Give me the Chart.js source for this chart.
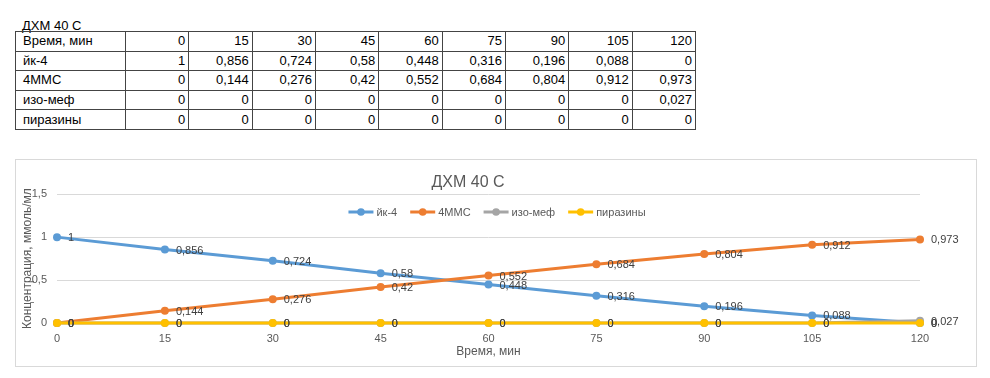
<!DOCTYPE html>
<html>
<head>
<meta charset="utf-8">
<script src="https://cdn.jsdelivr.net/npm/chart.js@4.4.0/dist/chart.umd.min.js"></script>
<style>
html,body{margin:0;padding:0;background:#fff;width:990px;height:378px;overflow:hidden;font-family:"Liberation Sans",Arial,sans-serif;}
#ttl{position:absolute;left:22px;top:18px;font-size:13px;color:#000;line-height:16px;white-space:nowrap;}
#tbl{position:absolute;left:15px;top:31px;border-collapse:collapse;font-size:13px;color:#000;table-layout:fixed;width:680px;}
#tbl td{border:1px solid #444;padding:0 3px 0 0;text-align:right;line-height:18px;white-space:nowrap;overflow:hidden;}
#tbl tr{height:19.6px;}
#tbl td.h{text-align:left;padding-left:7px;}
#box{position:absolute;left:15px;top:159px;width:960px;height:206px;border:1px solid #d9d9d9;}
#c{display:block;}
</style>
</head>
<body>
<div id="ttl">ДХМ 40 С</div>
<table id="tbl"><colgroup id="cg"></colgroup><tbody id="tb"></tbody></table>
<div id="box"><canvas id="c" width="960" height="206"></canvas></div>
<script>
// ---- data ----
const chartTitle = 'ДХМ 40 С';
const timeLabel = 'Время, мин';
const yAxisLabel = 'Концентрация, ммоль/мл';
const times = [0, 15, 30, 45, 60, 75, 90, 105, 120];
const seriesNames = ['йк-4', '4ММС', 'изо-меф', 'пиразины'];
const yk4 = [1, 0.856, 0.724, 0.58, 0.448, 0.316, 0.196, 0.088, 0];
const mmc4 = [0, 0.144, 0.276, 0.42, 0.552, 0.684, 0.804, 0.912, 0.973];
const izoMef = [0, 0, 0, 0, 0, 0, 0, 0, 0.027];
const pyrazines = [0, 0, 0, 0, 0, 0, 0, 0, 0];
const yTicks = [0, 0.5, 1, 1.5];
const seriesColors = ['#5B9BD5', '#ED7D31', '#A5A5A5', '#FFC000'];

const seriesData = [yk4, mmc4, izoMef, pyrazines];
const fmt = v => String(v).replace('.', ',');
const fontFam = '"Liberation Sans", Arial, sans-serif';

// ---- table ----
const cg = document.getElementById('cg');
let colHtml = '<col style="width:110px">';
times.forEach(() => colHtml += '<col style="width:63.33px">');
cg.innerHTML = colHtml;
const tb = document.getElementById('tb');
let rows = '<tr><td class="h">' + timeLabel + '</td>' + times.map(t => '<td>' + fmt(t) + '</td>').join('') + '</tr>';
seriesNames.forEach((n, i) => {
  rows += '<tr><td class="h">' + n + '</td>' + seriesData[i].map(v => '<td>' + fmt(v) + '</td>').join('') + '</tr>';
});
tb.innerHTML = rows;

// ---- point value labels ----
const labelPlugin = {
  id: 'pointLabels',
  afterDatasetsDraw(chart) {
    const ctx = chart.ctx;
    ctx.save();
    ctx.font = '11px ' + fontFam;
    ctx.fillStyle = '#404040';
    ctx.textAlign = 'left';
    ctx.textBaseline = 'middle';
    chart.data.datasets.forEach((ds, i) => {
      const meta = chart.getDatasetMeta(i);
      meta.data.forEach((pt, j) => {
        ctx.fillText(fmt(ds.data[j]), pt.x + 11, pt.y + 1);
      });
    });
    ctx.restore();
  }
};

// ---- legend (line + marker, drawn inside the plot like Excel) ----
const legendPlugin = {
  id: 'excelLegend',
  beforeDatasetsDraw(chart) {
    const ctx = chart.ctx;
    ctx.save();
    ctx.font = '11px ' + fontFam;
    const lineW = 25, gapText = 3, gapItem = 13;
    const items = chart.data.datasets.map(ds => ({ ds, w: ctx.measureText(ds.label).width }));
    const total = items.reduce((s, it) => s + lineW + gapText + it.w, 0) + gapItem * (items.length - 1);
    let x = chart.width / 2 + 1 - total / 2;
    const y = 52;
    items.forEach(it => {
      const c = it.ds.borderColor;
      ctx.strokeStyle = c; ctx.lineWidth = 3;
      ctx.beginPath(); ctx.moveTo(x, y); ctx.lineTo(x + lineW, y); ctx.stroke();
      ctx.fillStyle = c;
      ctx.beginPath(); ctx.arc(x + lineW / 2, y, 3.8, 0, Math.PI * 2); ctx.fill();
      ctx.fillStyle = '#595959';
      ctx.textAlign = 'left'; ctx.textBaseline = 'middle';
      ctx.fillText(it.ds.label, x + lineW + gapText, y + 0.5);
      x += lineW + gapText + it.w + gapItem;
    });
    ctx.restore();
  }
};

new Chart(document.getElementById('c'), {
  type: 'line',
  data: {
    labels: times.map(String),
    datasets: seriesNames.map((n, i) => ({
      label: n,
      data: seriesData[i],
      borderColor: seriesColors[i],
      backgroundColor: seriesColors[i],
      borderWidth: 3,
      pointRadius: 4,
      pointBorderWidth: 0,
      pointBackgroundColor: seriesColors[i],
      tension: 0,
      clip: false,
      order: seriesNames.length - 1 - i
    }))
  },
  options: {
    responsive: false,
    animation: false,
    devicePixelRatio: 1,
    layout: { padding: { left: 0, right: 56, top: 0, bottom: 0 } },
    plugins: {
      tooltip: { enabled: false },
      legend: { display: false },
      title: {
        display: true, text: chartTitle, color: '#595959',
        font: { family: fontFam, size: 16, weight: 'normal' },
        padding: { top: 13, bottom: 2 }
      }
    },
    scales: {
      x: {
        type: 'category',
        offset: false,
        grid: { display: false, drawTicks: false },
        border: { display: true, color: '#d9d9d9' },
        ticks: { color: '#595959', font: { family: fontFam, size: 11 }, padding: 9, autoSkip: false, maxRotation: 0 },
        title: { display: true, text: timeLabel, color: '#595959', font: { family: fontFam, size: 12 }, padding: { top: 0, bottom: 7 } },
        afterFit: s => { s.height = 43; }
      },
      y: {
        min: 0, max: 1.5,
        grid: { color: '#d9d9d9', drawTicks: false },
        border: { display: false },
        afterBuildTicks: s => { s.ticks = yTicks.map(v => ({ value: v })); },
        ticks: { color: '#595959', font: { family: fontFam, size: 11 }, padding: 10, callback: v => fmt(v) },
        title: { display: true, text: yAxisLabel, color: '#595959', font: { family: fontFam, size: 12 }, padding: { top: 4, bottom: 0 } },
        afterFit: s => { s.width = 41; }
      }
    }
  },
  plugins: [labelPlugin, legendPlugin]
});
</script>
</body>
</html>
